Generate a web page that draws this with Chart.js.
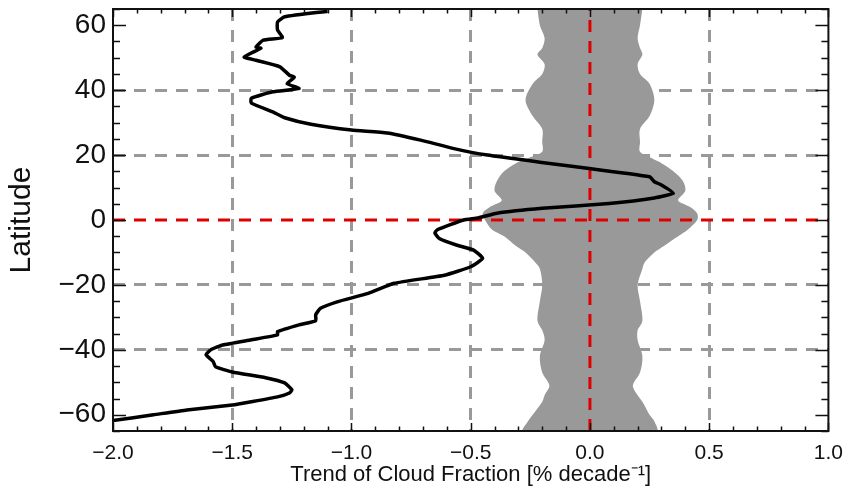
<!DOCTYPE html>
<html>
<head>
<meta charset="utf-8">
<script src="https://cdn.jsdelivr.net/npm/chart.js@4"></script>
<style>
  html, body { margin: 0; padding: 0; background: #fff; }
</style>
</head>
<body>
<canvas id="trend" width="853" height="488"></canvas>
<script>
// zonal mean trend of cloud fraction (black curve)
const trendLat = [64.3, 62.6, 61.0, 58.5, 56.2, 55.4, 53.3, 52.9, 50.2, 49.2, 47.2, 44.6, 44.0, 42.0, 40.5, 39.5,
  37.5, 36.0, 33.3, 31.5, 29.5, 27.7, 26.8, 24.6, 22.0, 20.0, 17.8, 16.4, 13.3, 11.8, 10.8, 8.3, 6.8, 5.1,
  3.6, 2.1, 0.6, 0.0, -3.0, -4.0, -5.8, -7.7, -9.2, -11.8, -14.4, -17.0, -19.5, -22.6, -25.2, -27.2, -29.2,
  -31.0, -32.3, -34.4, -35.4, -36.9, -38.5, -40.0, -41.5, -43.6, -45.2, -46.8, -48.6, -50.2, -52.3, -53.3,
  -54.5, -56.0, -57.0, -58.5, -60.0, -61.8];
const trendVal = [-1.10, -1.28, -1.31, -1.31, -1.29, -1.37, -1.40, -1.38, -1.45, -1.40, -1.30, -1.26, -1.24, -1.27, -1.22, -1.33,
  -1.42, -1.42, -1.33, -1.28, -1.17, -1.00, -0.85, -0.71, -0.57, -0.43, -0.21, -0.06, 0.25, 0.27, 0.30, 0.35, 0.27, 0.08,
  -0.20, -0.39, -0.47, -0.53, -0.64, -0.65, -0.63, -0.56, -0.49, -0.45, -0.50, -0.61, -0.82, -0.93, -1.06, -1.13, -1.15,
  -1.15, -1.22, -1.31, -1.31, -1.42, -1.54, -1.59, -1.61, -1.58, -1.57, -1.50, -1.36, -1.28, -1.25, -1.26,
  -1.31, -1.42, -1.50, -1.69, -1.83, -2.00];

// grey significance band (lower / upper edge)
const bandLat = [65, 60, 56, 53, 51, 48, 45, 42, 37, 32, 28, 24, 21, 19, 17.5, 15, 12, 9, 6, 4, 2, 0,
  -3, -5, -8, -10, -13, -15, -20, -25, -31, -34, -37, -42, -47, -51, -54, -56, -60, -62, -65];
const bandLow = [-0.22, -0.21, -0.19, -0.20, -0.22, -0.19, -0.20, -0.24, -0.27, -0.24, -0.20, -0.20, -0.20, -0.26, -0.31, -0.36, -0.39, -0.40, -0.37, -0.42, -0.45, -0.44,
  -0.41, -0.36, -0.31, -0.27, -0.23, -0.21, -0.20, -0.21, -0.22, -0.20, -0.19, -0.21, -0.20, -0.17, -0.19, -0.20, -0.24, -0.26, -0.28];
const bandHigh = [0.22, 0.21, 0.20, 0.21, 0.22, 0.20, 0.21, 0.25, 0.27, 0.25, 0.21, 0.21, 0.21, 0.26, 0.30, 0.35, 0.39, 0.40, 0.37, 0.42, 0.45, 0.45,
  0.41, 0.37, 0.31, 0.27, 0.23, 0.22, 0.20, 0.21, 0.22, 0.20, 0.20, 0.22, 0.21, 0.18, 0.20, 0.22, 0.25, 0.27, 0.28];

const xTicks = [-2.0, -1.5, -1.0, -0.5, 0.0, 0.5, 1.0];
const xTickLabels = ['\u22122.0', '\u22121.5', '\u22121.0', '\u22120.5', '0.0', '0.5', '1.0'];
const yTicks = [-60, -40, -20, 0, 20, 40, 60];
const yTickLabels = ['\u221260', '\u221240', '\u221220', '0', '20', '40', '60'];
const xGrid = [-1.5, -1.0, -0.5, 0.5];
const yGrid = [-40, -20, 20, 40];

const xMin = -2.0, xMax = 1.0, yMin = -65, yMax = 65;

const trendPts = trendLat.map((lat, i) => ({x: trendVal[i], y: lat}));
const bandPts = bandLat.map((lat, i) => ({x: bandLow[i], y: lat}))
  .concat(bandLat.map((lat, i) => ({x: bandHigh[i], y: lat})).reverse());

const GREY = '#999999';
const RED = '#dd0000';

// inward tick marks + frame, like the original IDL plot
const frameTicks = {
  id: 'frameTicks',
  afterDatasetsDraw(chart) {
    const {ctx, chartArea: a, scales: {x, y}} = chart;
    ctx.save();
    ctx.strokeStyle = '#111';
    ctx.lineWidth = 1.5;
    ctx.beginPath();
    for (let i = 0; i <= Math.round((xMax - xMin) / 0.1); i++) {
      const px = Math.round(x.getPixelForValue(xMin + i * 0.1)) + 0.5;
      const len = i % 5 === 0 ? 8 : 4.5;
      ctx.moveTo(px, a.bottom); ctx.lineTo(px, a.bottom - len);
      ctx.moveTo(px, a.top); ctx.lineTo(px, a.top + len);
    }
    for (let i = 0; i <= Math.round((yMax - yMin) / 5); i++) {
      const v = yMin + i * 5;
      const py = Math.round(y.getPixelForValue(v)) + 0.5;
      const len = v % 20 === 0 ? 13 : 7;
      ctx.moveTo(a.left, py); ctx.lineTo(a.left + len, py);
      ctx.moveTo(a.right, py); ctx.lineTo(a.right - len, py);
    }
    ctx.stroke();
    ctx.lineWidth = 2;
    ctx.strokeRect(a.left, a.top, a.right - a.left, a.bottom - a.top);
    ctx.restore();
  }
};

new Chart(document.getElementById('trend').getContext('2d'), {
  type: 'line',
  data: {
    datasets: [
      {
        // black trend curve, on top
        data: trendPts,
        borderColor: '#000',
        borderWidth: 3.5,
        pointRadius: 0,
        fill: false,
        tension: 0.15
      },
      {
        data: [{x: 0, y: yMin}, {x: 0, y: yMax}],
        borderColor: RED,
        borderWidth: 3,
        borderDash: [12, 9],
        pointRadius: 0,
        fill: false
      },
      {
        data: [{x: xMin, y: 0}, {x: xMax, y: 0}],
        borderColor: RED,
        borderWidth: 3,
        borderDash: [12, 9],
        pointRadius: 0,
        fill: false
      },
      {
        // significance band
        data: bandPts,
        borderColor: GREY,
        borderWidth: 0,
        backgroundColor: GREY,
        pointRadius: 0,
        fill: 'shape',
        tension: 0.3
      }
    ]
  },
  options: {
    responsive: false,
    animation: false,
    layout: { padding: { top: 9, right: 18, left: 0, bottom: 0 } },
    plugins: {
      legend: { display: false },
      tooltip: { enabled: false }
    },
    scales: {
      x: {
        type: 'linear',
        min: xMin,
        max: xMax,
        afterBuildTicks: s => { s.ticks = xTicks.map(v => ({value: v})); },
        afterFit: s => { s.height = 57; },
        ticks: {
          font: { family: 'Liberation Sans', size: 21 },
          color: '#111',
          padding: 10,
          maxRotation: 0,
          callback: (v, i) => xTickLabels[i]
        },
        grid: {
          drawTicks: false,
          lineWidth: 3,
          color: c => xGrid.includes(c.tick.value) ? GREY : 'rgba(0,0,0,0)'
        },
        border: { display: false, dash: [12, 9] },
        title: {
          display: true,
          text: 'Trend of Cloud Fraction [% decade\u207B\u00B9]',
          font: { family: 'Liberation Sans', size: 22 },
          color: '#111',
          padding: { top: 0, bottom: 0 }
        }
      },
      y: {
        type: 'linear',
        min: yMin,
        max: yMax,
        afterBuildTicks: s => { s.ticks = yTicks.map(v => ({value: v})); },
        afterFit: s => { s.width = 113; s.paddingTop = 0; s.paddingBottom = 0; },
        ticks: {
          font: { family: 'Liberation Sans', size: 28 },
          color: '#111',
          padding: 7,
          callback: (v, i) => yTickLabels[i]
        },
        grid: {
          drawTicks: false,
          lineWidth: 3,
          color: c => yGrid.includes(c.tick.value) ? GREY : 'rgba(0,0,0,0)'
        },
        border: { display: false, dash: [12, 9] },
        title: {
          display: true,
          text: 'Latitude',
          font: { family: 'Liberation Sans', size: 30 },
          color: '#111',
          padding: { top: 4, bottom: 0 }
        }
      }
    }
  },
  plugins: [frameTicks]
});
</script>
</body>
</html>
